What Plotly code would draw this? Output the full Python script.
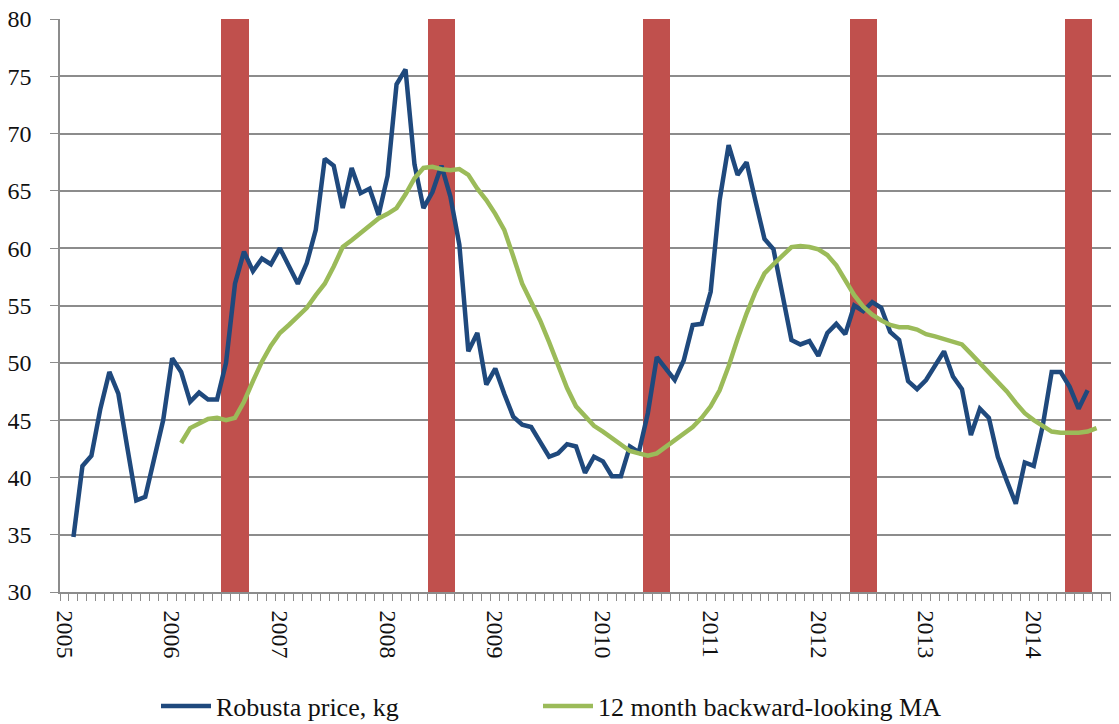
import plotly.graph_objects as go

# Month index 0 = Jan 2005
n_months = 118
year_labels = ["2005", "2006", "2007", "2008", "2009", "2010", "2011", "2012", "2013", "2014"]
year_positions = [0, 12, 24, 36, 48, 60, 72, 84, 96, 108]

robusta_start = 1
robusta_price = [
    34.8, 41.0, 41.9, 46.0, 49.2, 47.3, 42.6, 38.0, 38.3, 41.5, 45.0,
    50.4, 49.2, 46.6, 47.4, 46.8, 46.8, 50.0, 56.9, 59.7, 58.0, 59.1, 58.6,
    60.0, 58.5, 56.9, 58.7, 61.6, 67.8, 67.2, 63.5, 67.0, 64.8, 65.2, 62.9,
    66.3, 74.3, 75.6, 67.3, 63.5, 64.9, 67.2, 64.5, 60.3,
    51.0, 52.6, 48.1, 49.5, 47.3, 45.3, 44.6, 44.4, 43.1, 41.8, 42.1, 42.9,
    42.7, 40.4, 41.8, 41.4, 40.1, 40.1, 42.7, 42.2, 45.6, 50.5, 49.5, 48.5,
    50.2, 53.3, 53.4, 56.2, 64.2, 69.0, 66.4, 67.5, 64.1, 60.8, 59.9, 56.0,
    52.0, 51.6, 51.9, 50.6, 52.6, 53.4, 52.5, 55.0, 54.5, 55.3, 54.8, 52.7,
    52.0, 48.4, 47.7, 48.5, 49.8, 51.0, 48.8, 47.7, 43.7, 46.0, 45.2, 41.8,
    39.7, 37.7, 41.3, 41.0, 44.5, 49.2, 49.2, 47.9, 46.0, 47.6,
]

ma_start = 13
moving_avg = [
    43.0, 44.3, 44.7, 45.1, 45.2, 45.0, 45.2, 46.6, 48.4, 50.1, 51.5,
    52.6, 53.3, 54.0, 54.8, 55.9, 56.9, 58.4, 60.1, 60.7, 61.3, 61.9, 62.6,
    63.0, 63.5, 64.7, 66.1, 67.0, 67.1, 66.9, 66.8, 66.9, 66.4, 65.2, 64.2,
    63.0, 61.6, 59.3, 56.9, 55.3, 53.7, 51.8, 49.7, 47.8, 46.2, 45.4, 44.5,
    44.0, 43.4, 42.8, 42.3, 42.1, 41.9, 42.1, 42.7, 43.3, 43.8, 44.4, 45.2,
    46.2, 47.6, 49.7, 52.1, 54.3, 56.2, 57.8, 58.6, 59.4, 60.1, 60.2, 60.1,
    59.9, 59.4, 58.5, 57.2, 55.9, 54.9, 54.2, 53.7, 53.3, 53.1, 53.1, 52.9,
    52.5, 52.3, 52.1, 51.9, 51.6, 50.8, 50.0, 49.2, 48.4, 47.5, 46.5, 45.6,
    45.0, 44.5, 44.0, 43.9, 43.9, 43.9, 44.0, 44.3,
]

event_months = [18, 19, 20, 41, 42, 43, 65, 66, 67, 88, 89, 90, 112, 113, 114]
event_height = 80

blue = "#1F497D"
green = "#9BBB59"
red = "#C0504D"
grid = "#8C8C8C"
font_family = "Liberation Serif"

# page body has an 8px margin, so the figure is sized to fit the window
W, H = 1111, 716

fig = go.Figure()

fig.add_trace(go.Bar(
    x=event_months,
    y=[event_height] * len(event_months),
    width=1.02,
    marker=dict(color=red, line=dict(width=0)),
    showlegend=False,
    hoverinfo="skip",
))

fig.add_trace(go.Scatter(
    x=list(range(robusta_start, robusta_start + len(robusta_price))),
    y=robusta_price,
    mode="lines",
    name="Robusta price, kg",
    line=dict(color=blue, width=4.5),
    legend="legend",
))

fig.add_trace(go.Scatter(
    x=list(range(ma_start, ma_start + len(moving_avg))),
    y=moving_avg,
    mode="lines",
    name="12 month backward-looking MA",
    line=dict(color=green, width=4.5),
    legend="legend2",
))

legend_common = dict(
    orientation="h",
    xref="container",
    xanchor="left",
    yref="container",
    y=1 - 698 / H,
    yanchor="middle",
    font=dict(family=font_family, size=26, color="#111111"),
    itemwidth=50,
    bgcolor="rgba(0,0,0,0)",
)

fig.update_layout(
    width=W,
    height=H,
    margin=dict(l=52, r=0, t=11, b=132),
    plot_bgcolor="white",
    paper_bgcolor="white",
    font=dict(family=font_family, size=22, color="#111111"),
    bargap=0,
    showlegend=True,
    legend=dict(legend_common, x=148 / W),
    legend2=dict(legend_common, x=530 / W),
    xaxis=dict(
        range=[-0.5, n_months - 0.5],
        tickmode="array",
        tickvals=year_positions,
        ticktext=year_labels,
        tickangle=90,
        ticks="",
        ticklabelstandoff=12,
        automargin=False,
        showgrid=False,
        showline=True,
        linecolor=grid,
        linewidth=1.5,
        zeroline=False,
        tickfont=dict(family=font_family, size=24, color="#111111"),
        minor=dict(
            tick0=-0.5,
            dtick=1,
            ticks="outside",
            ticklen=7,
            tickcolor=grid,
            tickwidth=1,
            showgrid=False,
        ),
    ),
    yaxis=dict(
        range=[30, 80],
        tickmode="linear",
        tick0=30,
        dtick=5,
        showgrid=True,
        gridcolor=grid,
        gridwidth=1.5,
        showline=True,
        linecolor=grid,
        linewidth=1.5,
        ticks="outside",
        ticklen=8,
        tickcolor=grid,
        ticklabelstandoff=14,
        ticklabeloverflow="allow",
        automargin=False,
        zeroline=False,
        tickfont=dict(family=font_family, size=24, color="#111111"),
    ),
)

fig.write_html("out.html")
